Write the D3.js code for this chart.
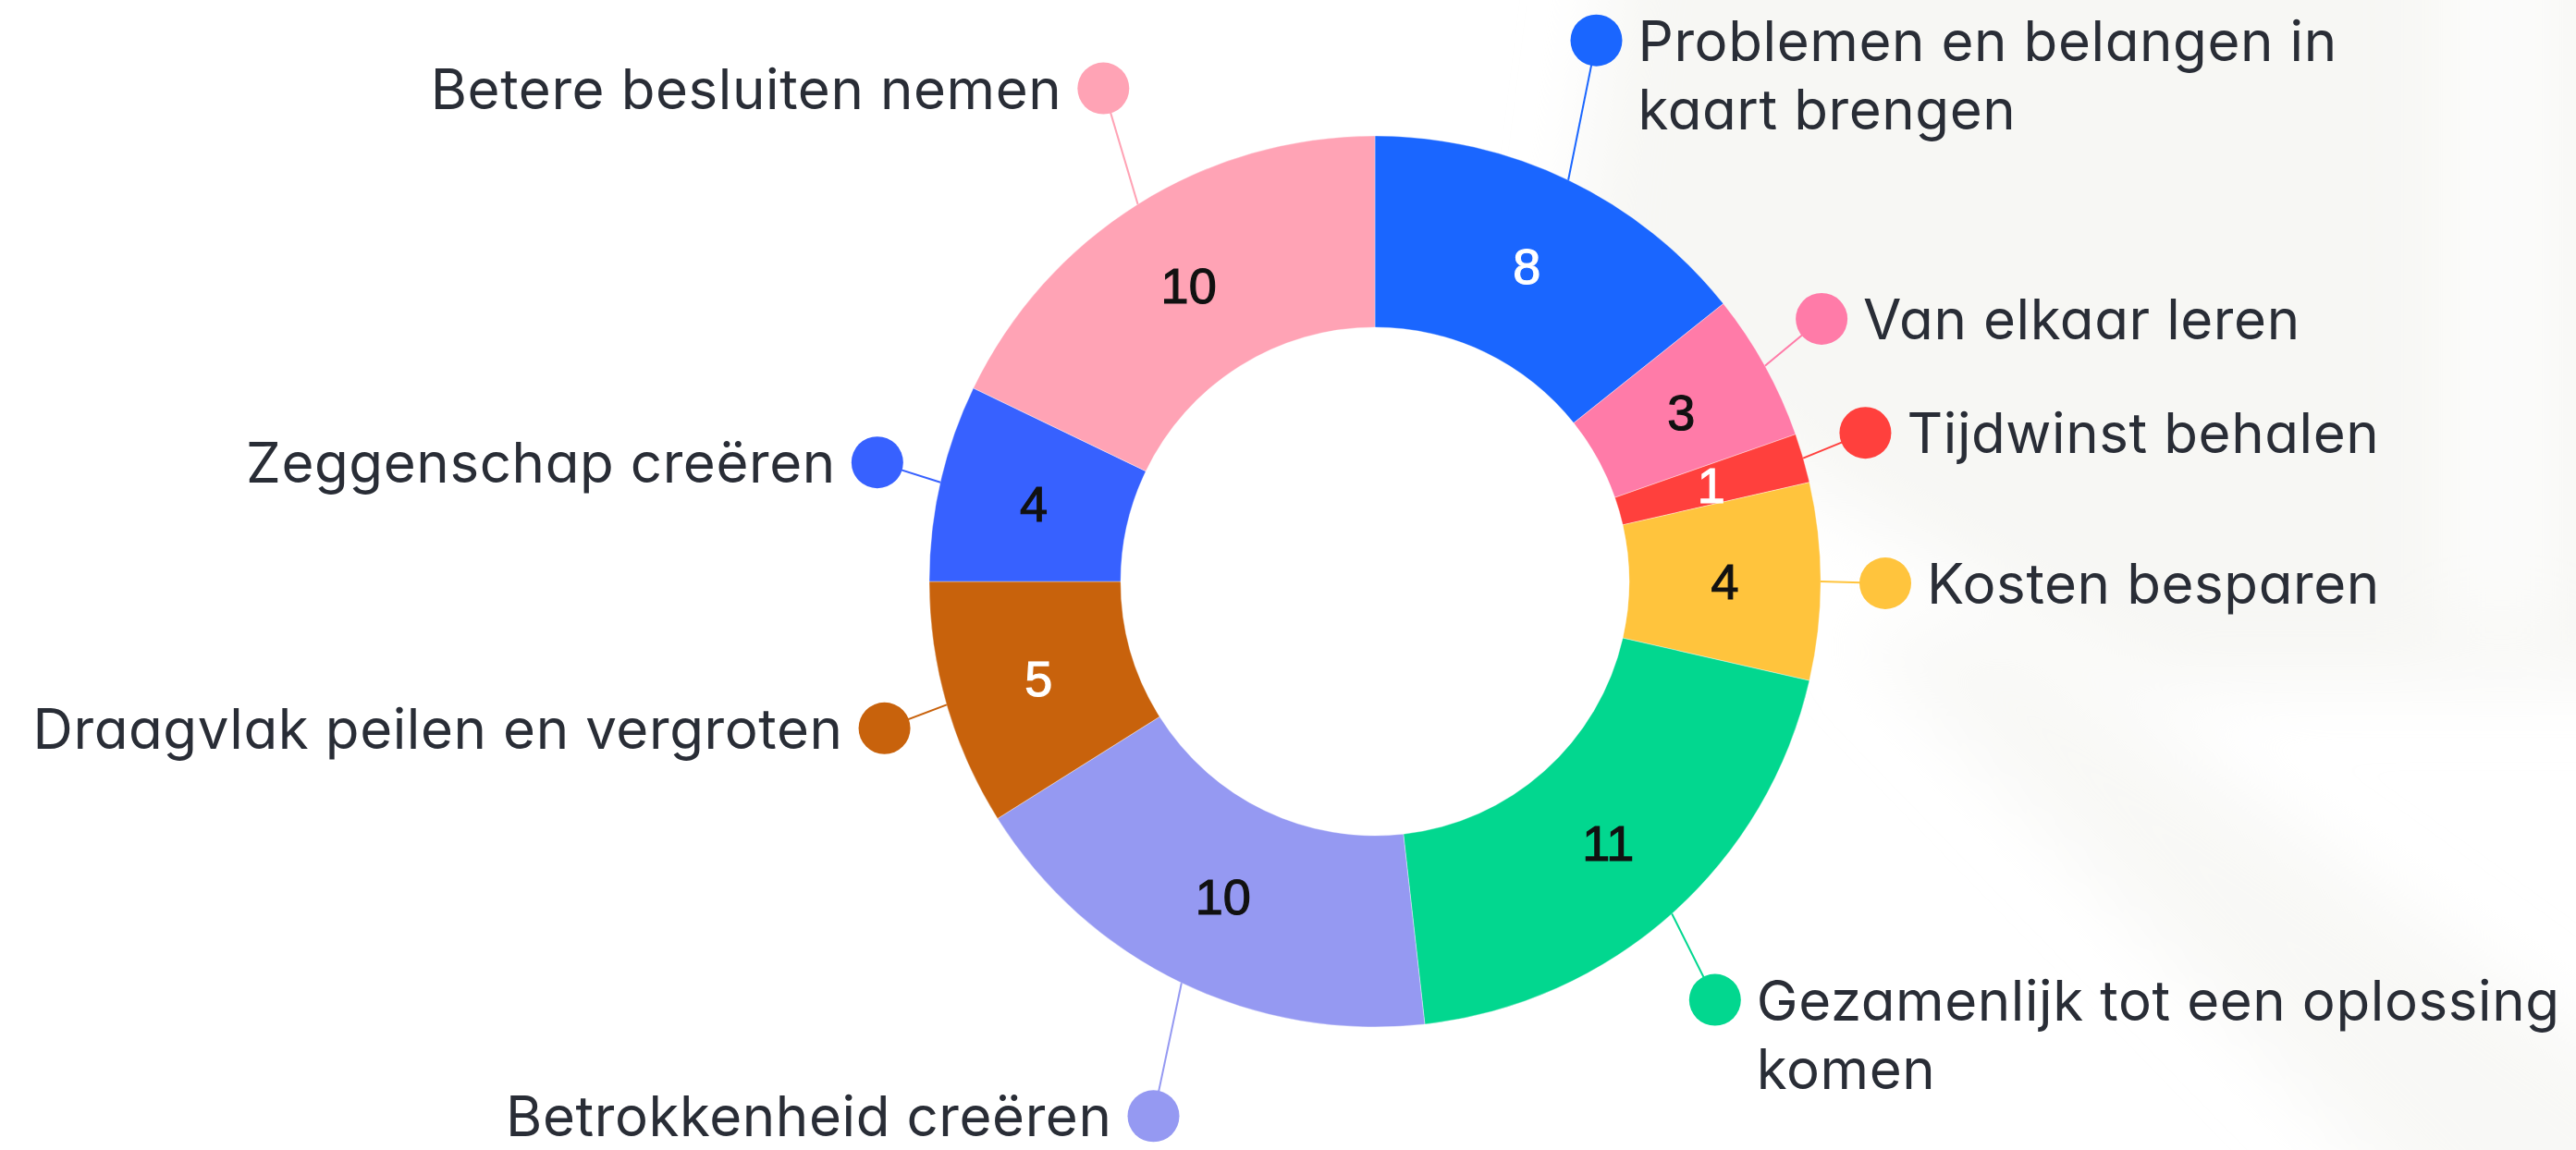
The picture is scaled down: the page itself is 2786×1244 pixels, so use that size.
<!DOCTYPE html>
<html>
<head>
<meta charset="utf-8">
<script src="https://cdn.jsdelivr.net/npm/d3@7"></script>
<style>
  html, body { margin: 0; padding: 0; background: #ffffff; }
  svg { display: block; }
  .lbl { font-family: Inter, "Noto Sans", sans-serif; font-feature-settings: "cv11" 1; fill: #292d36; letter-spacing: 0.6px; }
  .num { font-family: "Liberation Sans", Arial, sans-serif; }
</style>
</head>
<body>
<svg id="chart" width="2786" height="1244"></svg>
<script>
// ---- data ----
const categories = [
  "Problemen en belangen in kaart brengen",
  "Van elkaar leren",
  "Tijdwinst behalen",
  "Kosten besparen",
  "Gezamenlijk tot een oplossing komen",
  "Betrokkenheid creëren",
  "Draagvlak peilen en vergroten",
  "Zeggenschap creëren",
  "Betere besluiten nemen"
];
const values = [8, 3, 1, 4, 11, 10, 5, 4, 10];
const labelLines = [
  ["Problemen en belangen in", "kaart brengen"],
  ["Van elkaar leren"],
  ["Tijdwinst behalen"],
  ["Kosten besparen"],
  ["Gezamenlijk tot een oplossing", "komen"],
  ["Betrokkenheid creëren"],
  ["Draagvlak peilen en vergroten"],
  ["Zeggenschap creëren"],
  ["Betere besluiten nemen"]
];

// ---- styles / layout ----
const colors = ["#1a66ff", "#ff7ba8", "#ff403d", "#ffc43d", "#02d78f", "#9599f2", "#c8620c", "#3761ff", "#ffa3b5"];
const numberColors = ["#ffffff", "#111111", "#ffffff", "#111111", "#111111", "#111111", "#ffffff", "#111111", "#111111"];
// extra vertical push of the label dot (layout nudges to avoid collisions)
const labelPushY = [-88, -17, -8, 2, 41, 81, 6, -6, -66];

const W = 2786, H = 1244;
const cx = 1487, cy = 629;
const rOuter = 482, rInner = 275;
const leader = 70, dotR = 28, textGap = 17;
const fontSize = 60, lineGap = 74;

const svg = d3.select("#chart");

// faint background shapes
const defs = svg.append("defs");
defs.append("filter").attr("id", "blur").attr("x", "-50%").attr("y", "-50%").attr("width", "200%").attr("height", "200%")
  .append("feGaussianBlur").attr("stdDeviation", 40);
const bg = svg.append("g").attr("filter", "url(#blur)");
bg.append("path").attr("d", "M1750,-100 L2900,-100 L2900,740 L2330,740 L1950,520 L1700,300 Z").attr("fill", "#f4f4f0").attr("opacity", 0.75);
bg.append("path").attr("d", "M2000,680 L2180,680 L2900,1200 L2900,1400 L2700,1400 Z").attr("fill", "#f4f4f0").attr("opacity", 0.6);
bg.append("path").attr("d", "M2640,-100 L2770,-100 L2770,680 L2640,680 Z").attr("fill", "#ffffff").attr("opacity", 0.6);

const data = categories.map((c, i) => ({ name: c, value: values[i], i }));

const pie = d3.pie().value(d => d.value).sort(null).startAngle(0).endAngle(2 * Math.PI);
const arcs = pie(data);
const arc = d3.arc().innerRadius(rInner).outerRadius(rOuter);

const g = svg.append("g").attr("transform", `translate(${cx},${cy})`);

g.selectAll("path.slice").data(arcs).join("path")
  .attr("class", "slice")
  .attr("d", arc)
  .attr("fill", d => colors[d.data.i])
  .attr("stroke", "#ffffff")
  .attr("stroke-opacity", 0.35)
  .attr("stroke-width", 1);

g.selectAll("text.num").data(arcs).join("text")
  .attr("class", "num")
  .attr("transform", d => `translate(${arc.centroid(d)})`)
  .attr("text-anchor", "middle")
  .attr("dy", "0.36em")
  .attr("font-size", 54)
  .attr("fill", d => numberColors[d.data.i])
  .attr("stroke", d => numberColors[d.data.i])
  .attr("stroke-width", 1.2)
  .text(d => d.data.value);

// labels
const mid = d => (d.startAngle + d.endAngle) / 2;
const labG = g.append("g");
arcs.forEach(d => {
  const a = mid(d);
  const sx = Math.sin(a), sy = -Math.cos(a);
  const p0 = [rOuter * sx, rOuter * sy];
  const p1 = [(rOuter + leader) * sx, (rOuter + leader) * sy + labelPushY[d.data.i]];
  const col = colors[d.data.i];
  labG.append("line")
    .attr("x1", p0[0]).attr("y1", p0[1]).attr("x2", p1[0]).attr("y2", p1[1])
    .attr("stroke", col).attr("stroke-width", 2);
  labG.append("circle").attr("cx", p1[0]).attr("cy", p1[1]).attr("r", dotR).attr("fill", col);
  const right = sx >= 0;
  const tx = p1[0] + (right ? 1 : -1) * (dotR + textGap);
  const t = labG.append("text")
    .attr("class", "lbl")
    .attr("font-size", fontSize)
    .attr("text-anchor", right ? "start" : "end")
    .attr("x", tx)
    .attr("y", p1[1] + 22);
  labelLines[d.data.i].forEach((ln, k) => {
    t.append("tspan")
      .attr("x", tx)
      .attr("dy", k === 0 ? 0 : lineGap)
      .text(ln);
  });
});
</script>
</body>
</html>
